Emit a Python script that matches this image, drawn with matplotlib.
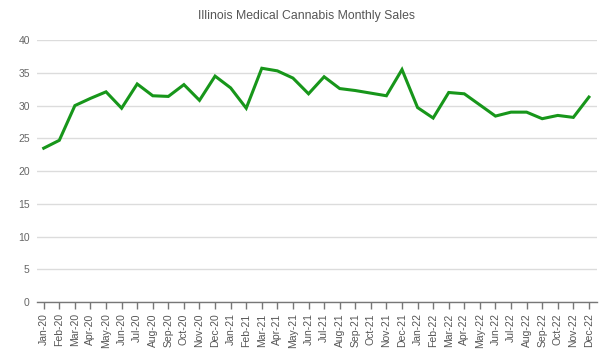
import matplotlib
matplotlib.use("Agg")
import matplotlib.pyplot as plt

plt.rcParams['font.family'] = ['Liberation Sans', 'DejaVu Sans']

# monthly labels and sales values
months = ['Jan-20', 'Feb-20', 'Mar-20', 'Apr-20', 'May-20', 'Jun-20', 'Jul-20', 'Aug-20',
          'Sep-20', 'Oct-20', 'Nov-20', 'Dec-20', 'Jan-21', 'Feb-21', 'Mar-21', 'Apr-21',
          'May-21', 'Jun-21', 'Jul-21', 'Aug-21', 'Sep-21', 'Oct-21', 'Nov-21', 'Dec-21',
          'Jan-22', 'Feb-22', 'Mar-22', 'Apr-22', 'May-22', 'Jun-22', 'Jul-22', 'Aug-22',
          'Sep-22', 'Oct-22', 'Nov-22', 'Dec-22']
sales = [23.5, 24.7, 30.0, 31.1, 32.1, 29.6, 33.3, 31.5,
         31.4, 33.2, 30.8, 34.5, 32.7, 29.6, 35.7, 35.3,
         34.2, 31.8, 34.4, 32.6, 32.3, 31.9, 31.5, 35.5,
         29.7, 28.1, 32.0, 31.8, 30.1, 28.4, 29.0, 29.0,
         28.0, 28.5, 28.2, 31.3]
yticks = [0, 5, 10, 15, 20, 25, 30, 35, 40]

fig = plt.figure(figsize=(6.12, 3.61), dpi=100)
ax = fig.add_axes([0.060, 0.163, 0.915, 0.726])

x = list(range(len(months)))
ax.plot(x, sales, color='#17961a', linewidth=2.2, solid_joinstyle='miter')

ax.set_xlim(-0.45, 35.5)
ax.set_ylim(0, 40)
ax.set_yticks(yticks)
ax.set_xticks(x)
ax.set_xticklabels(months, rotation=90, fontsize=7.5, color='#555555')
ax.tick_params(axis='y', length=0, labelsize=7.5, labelcolor='#666666', pad=5)
ax.tick_params(axis='x', length=5, width=1, color='#777777', pad=3)

ax.grid(True, axis='y', color='#dcdcdc', linewidth=1)
ax.set_axisbelow(True)
for s in ['top', 'right', 'left']:
    ax.spines[s].set_visible(False)
ax.spines['bottom'].set_color('#777777')
ax.spines['bottom'].set_linewidth(1)

fig.text(0.5, 0.955, 'Illinois Medical Cannabis Monthly Sales', ha='center', va='center',
         fontsize=8.8, color='#555555')

fig.savefig('out.png', dpi=100)
